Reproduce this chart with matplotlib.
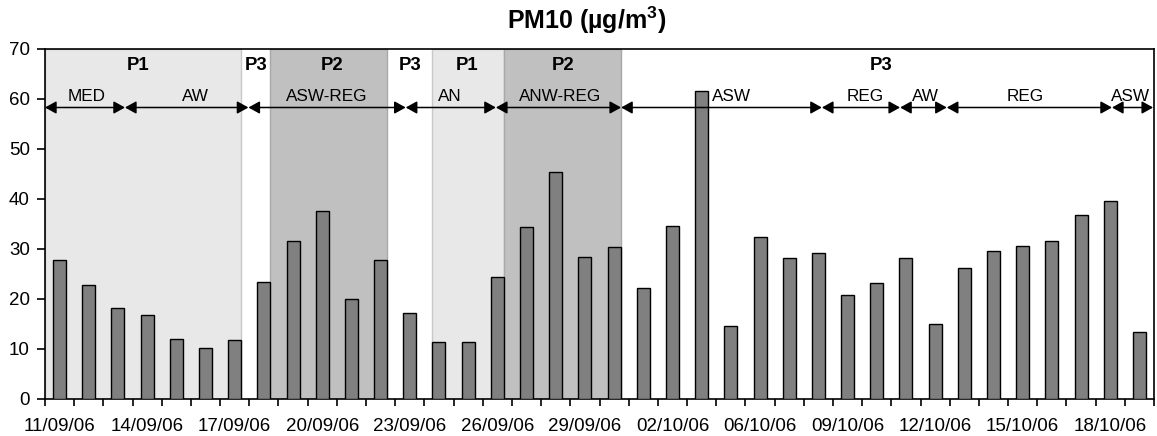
import matplotlib
matplotlib.use("Agg")
import matplotlib.pyplot as plt
import numpy as np

plt.rcParams['font.family'] = ['Liberation Sans', 'DejaVu Sans']

# ---- data ----
dates = ["11/09/06", "12/09/06", "13/09/06", "14/09/06", "15/09/06", "16/09/06",
         "17/09/06", "18/09/06", "19/09/06", "20/09/06", "21/09/06", "22/09/06",
         "23/09/06", "24/09/06", "25/09/06", "26/09/06", "27/09/06", "28/09/06",
         "29/09/06", "30/09/06", "01/10/06", "02/10/06", "03/10/06", "04/10/06",
         "06/10/06", "07/10/06", "08/10/06", "09/10/06", "10/10/06", "11/10/06",
         "12/10/06", "13/10/06", "14/10/06", "15/10/06", "16/10/06", "17/10/06",
         "18/10/06", "19/10/06"]
pm10 = [27.8, 22.7, 18.2, 16.8, 12.0, 10.1, 11.7, 23.3, 31.5, 37.6, 20.0, 27.8,
        17.2, 11.4, 11.4, 24.4, 34.3, 45.3, 28.4, 30.3, 22.2, 34.6, 61.6, 14.6,
        32.3, 28.1, 29.2, 20.8, 23.1, 28.1, 14.9, 26.1, 29.5, 30.6, 31.5, 36.8,
        39.6, 13.4]

# shaded periods (category coordinates) and their shade
period_spans = [(-0.5, 6.225), (7.225, 11.225), (12.775, 15.225), (15.225, 19.225)]
period_fill = ['#E8E8E8', '#C0C0C0', '#E8E8E8', '#C0C0C0']
period_edge = ['#C8C8C8', '#A8A8A8', '#C8C8C8', '#A8A8A8']

# period labels
period_labels = ["P1", "P3", "P2", "P3", "P1", "P2", "P3"]
period_label_x = [2.69, 6.73, 9.33, 12.0, 13.96, 17.25, 28.15]

# air-mass segments
seg_bounds = [-0.5, 2.24, 6.47, 11.86, 14.95, 19.24, 26.12, 28.8, 30.4, 36.06, 37.47]
seg_labels = ["MED", "AW", "ASW-REG", "AN", "ANW-REG", "ASW", "REG", "AW", "REG", "ASW"]
seg_label_x = [0.94, 4.64, 9.16, 13.38, 17.15, 23.03, 27.6, 29.66, 33.1, 36.7]

# ---- figure ----
W, H = 1157, 436
fig = plt.figure(figsize=(W / 100, H / 100), dpi=100)
ax = fig.add_axes([45 / W, (H - 398.5) / H, (1154 - 45) / W, (398.5 - 48.5) / H])

n = len(pm10)
x = np.arange(n)

for (a, b), fc, ec in zip(period_spans, period_fill, period_edge):
    ax.axvspan(a, b, facecolor=fc, edgecolor=ec, linewidth=1.0, zorder=0)

ax.bar(x, pm10, width=0.445, color='#808080', edgecolor='black', linewidth=1.0, zorder=3)

ax.set_xlim(-0.5, n - 0.5)
ax.set_ylim(0, 70)
ax.set_yticks(np.arange(0, 71, 10))

ax.set_xticks(x[::3])
ax.set_xticklabels([dates[i] for i in x[::3]])
ax.set_xticks(np.arange(-0.5, n, 1), minor=True)
ax.tick_params(axis='x', which='major', length=0, pad=14, labelsize=13.5)
ax.tick_params(axis='x', which='minor', length=5, width=1.2, direction='out')
ax.tick_params(axis='y', length=6, width=1.2, pad=5, labelsize=13.5)

for s in ax.spines.values():
    s.set_linewidth(1.2)
    s.set_color('black')

# arrows
arrow_y = 58.2
for a, b in zip(seg_bounds[:-1], seg_bounds[1:]):
    ax.annotate('', xy=(b, arrow_y), xytext=(a, arrow_y),
                arrowprops=dict(arrowstyle='<|-|>,head_length=0.45,head_width=0.25',
                                mutation_scale=15, color='black', lw=1.1,
                                shrinkA=0, shrinkB=0),
                zorder=5, annotation_clip=False)
for lab, lx in zip(seg_labels, seg_label_x):
    ax.text(lx, 60.4, lab, ha='center', va='center', fontsize=12.3, zorder=6)

for lab, lx in zip(period_labels, period_label_x):
    ax.text(lx, 66.7, lab, ha='center', va='center', fontsize=13.3,
            fontweight='bold', zorder=6)

fig.text(587 / W, 1 - 20 / H, 'PM10 (µg/m$^{\\mathregular{3}}$)', ha='center', va='center',
         fontsize=18, fontweight='bold')

fig.savefig('out.png', dpi=100)
